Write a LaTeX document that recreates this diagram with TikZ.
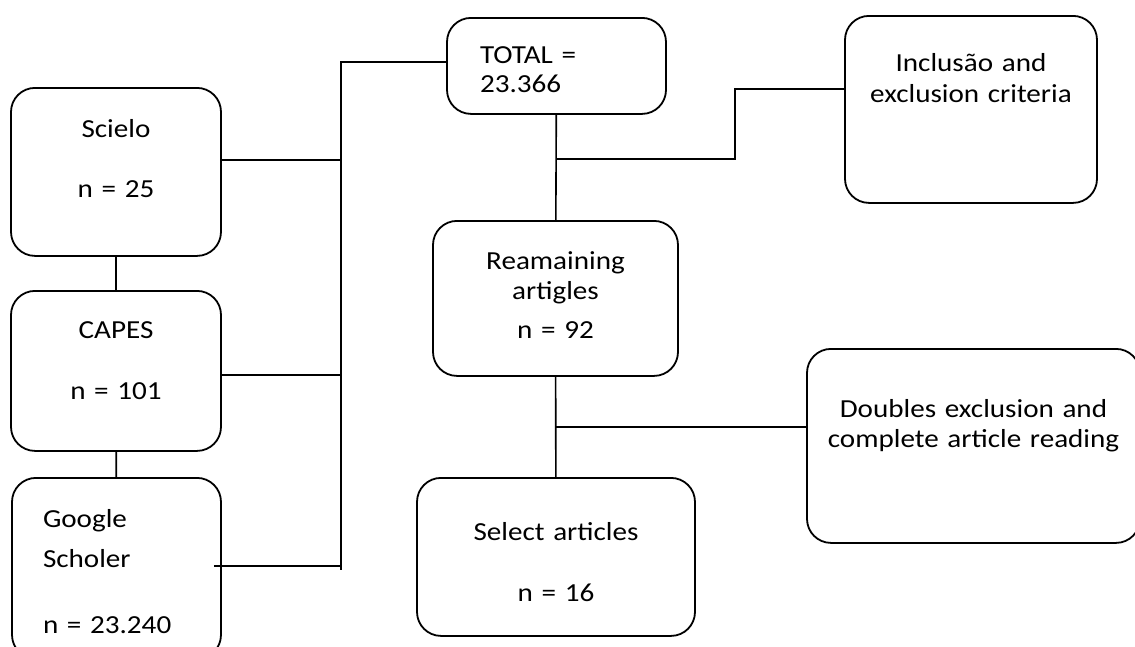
\documentclass[tikz,border=0pt]{standalone}
\usepackage{fontspec}
\setmainfont{Carlito}[FakeStretch=1.12]
\usepackage{tikz}
\usetikzlibrary{positioning, calc}

\begin{document}
\begin{tikzpicture}[
    x=1pt, y=-1pt,
    box/.style={draw, rectangle, rounded corners=24pt, line width=1.8pt, inner sep=0pt, anchor=north, align=center, font=\fontsize{26}{31}\selectfont},
    link/.style={line width=1.6pt}
]
\useasboundingbox (0,0) rectangle (1135,646);
\clip (0,0) rectangle (1135,646);
\node (scielo) [box, text width=210pt, text height=50pt, text depth=118pt] at (116,87) {Scielo\\[29pt]n = 25};
\node (capes) [box, text width=210pt, text height=48pt, text depth=112pt] at (116,290) {CAPES\\[30pt]n = 101};
\node (google) [box, align=left, text width=147pt, inner xsep=31pt, text height=50pt, text depth=131pt] at (116.5,477) {Google\\[9pt]Scholer\\[35pt]n = 23.240};
\node (total) [box, align=left, text width=153pt, inner xsep=33pt, text height=46pt, text depth=50pt] at (556.5,17) {TOTAL =\\[-2pt]23.366};
\node (remain) [box, text width=245pt, text height=49pt, text depth=106pt] at (555.5,220) {Reamaining\\[-1pt]artigles\\[8pt]n = 92};
\node (select) [box, text width=278pt, text height=63pt, text depth=95pt] at (556,477) {Select articles\\[30pt]n = 16};
\node (incl) [box, text width=252pt, text height=56pt, text depth=131pt] at (971,15) {Inclusão and\\exclusion criteria};
\node (doubles) [box, text width=333pt, text height=69pt, text depth=125pt] at (973.5,348) {Doubles exclusion and\\[-1pt]complete article reading};

\coordinate (busbot) at (341,570);
\coordinate (j1) at (556,159);
\coordinate (j2) at (556,427);

\draw[link] (scielo) -- (capes);
\draw[link] (capes) -- (google);
\draw[link] ([yshift=4pt]total.west) -| (busbot);
\draw[link] ([yshift=12pt]scielo.east) -- ([yshift=12pt]scielo.east -| busbot);
\draw[link] ([yshift=-4pt]capes.east) -- ([yshift=-4pt]capes.east -| busbot);
\draw[link] ([xshift=-8pt,yshift=2.5pt]google.east) -- ([yshift=2.5pt]google.east -| busbot);
\draw[link] (total) -- (remain);
\draw[link] (remain) -- (select);
\draw[link] (j1) -- ++(179,0) |- ([yshift=20.5pt]incl.west);
\draw[link] (j2) -- (j2 -| doubles.west);
\end{tikzpicture}
\end{document}
